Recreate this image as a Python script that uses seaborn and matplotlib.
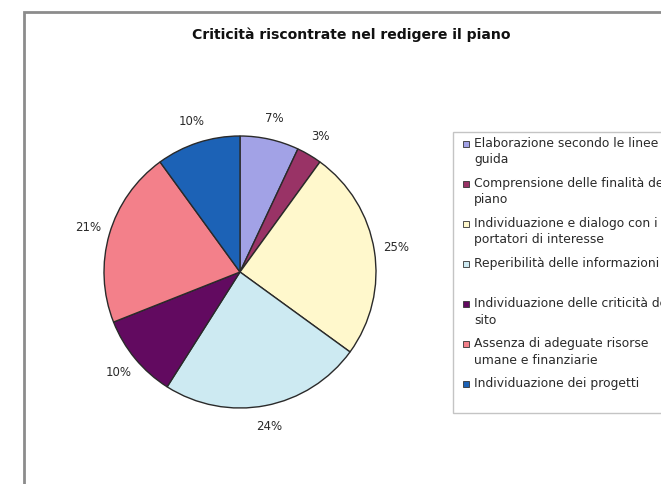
import matplotlib
matplotlib.use("Agg")
import matplotlib.pyplot as plt
import seaborn as sns
from matplotlib.patches import Rectangle

sns.set_theme(style="white")
plt.rcParams['font.family'] = ['DejaVu Sans']

title = "Criticità riscontrate nel redigere il piano"
categories = [
    "Elaborazione secondo le linee\nguida",
    "Comprensione delle finalità del\npiano",
    "Individuazione e dialogo con i\nportatori di interesse",
    "Reperibilità delle informazioni",
    "Individuazione delle criticità del\nsito",
    "Assenza di adeguate risorse\numane e finanziarie",
    "Individuazione dei progetti",
]
values = [7, 3, 25, 24, 10, 21, 10]
colors = ['#A2A2E6', '#993366', '#FFF8CC', '#CDEAF2', '#620A60', '#F3808A', '#1C62B6']

W, H = 661, 484
fig = plt.figure(figsize=(W / 100, H / 100), dpi=100)
fig.patch.set_facecolor('white')

def fx(px):
    return px / W

def fy(py):
    return 1 - py / H

# outer chart frame (cropped at right/bottom)
fig.patches.append(Rectangle((fx(24), -0.1), 1.2, fy(12) + 0.1, transform=fig.transFigure,
                             fill=False, edgecolor='#8c8c8c', linewidth=2, zorder=0))

cx, cy, r = 240, 272, 136
side = 2.5 * r
ax = fig.add_axes([fx(cx - side / 2), (H - cy - side / 2) / H, side / W, side / H])
wedges, texts, autotexts = ax.pie(
    values, colors=colors, startangle=90, counterclock=False,
    autopct=lambda p: f"{p:.0f}%", pctdistance=1.16,
    wedgeprops=dict(edgecolor='#2a2a2a', linewidth=1.0),
    textprops=dict(fontsize=8.5, color='#2a2a2a'))

fig.text(fx(351), fy(35), title, ha='center', va='center', fontsize=10.1,
         fontweight='bold', color='#111111')

# legend box (cropped at the right edge like the reference)
fig.patches.append(Rectangle((fx(453), fy(413)), 1.0, fy(132) - fy(413),
                             transform=fig.transFigure, facecolor='white',
                             edgecolor='#c4c4c4', linewidth=1.0, zorder=1))
y0, step = 144, 40
for i, (lab, col) in enumerate(zip(categories, colors)):
    yc = y0 + i * step
    fig.patches.append(Rectangle((fx(463), fy(yc + 3)), fx(6), fy(yc - 3) - fy(yc + 3),
                                 transform=fig.transFigure, facecolor=col,
                                 edgecolor='#333333', linewidth=0.6, zorder=2))
    fig.text(fx(474), fy(yc - 7), lab, ha='left', va='top', fontsize=8.9,
             color='#2a2a2a', linespacing=1.35, zorder=3)

fig.savefig("out.png", dpi=100)
